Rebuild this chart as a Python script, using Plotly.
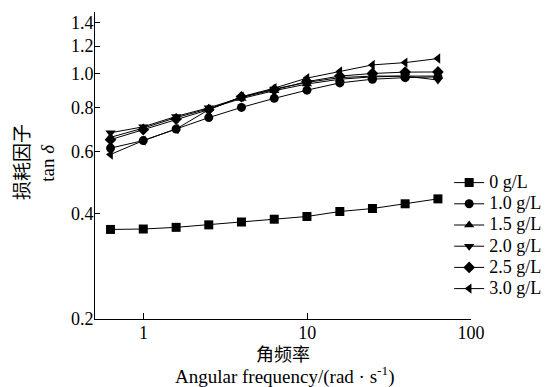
import plotly.graph_objects as go
import numpy as np

freq = [0.628, 0.995, 1.58, 2.5, 3.96, 6.28, 9.95, 15.8, 25.0, 39.6, 62.8]
series_names = ["0 g/L", "1.0 g/L", "1.5 g/L", "2.0 g/L", "2.5 g/L", "3.0 g/L"]
tan_0 = [0.360, 0.361, 0.365, 0.371, 0.378, 0.385, 0.392, 0.405, 0.413, 0.426, 0.440]
tan_10 = [0.614, 0.645, 0.696, 0.750, 0.802, 0.851, 0.898, 0.942, 0.965, 0.975, 0.980]
tan_15 = [0.659, 0.700, 0.750, 0.795, 0.850, 0.895, 0.935, 0.965, 0.980, 0.985, 0.985]
tan_20 = [0.679, 0.706, 0.756, 0.800, 0.855, 0.905, 0.945, 0.975, 0.985, 0.985, 0.960]
tan_25 = [0.649, 0.693, 0.743, 0.790, 0.860, 0.900, 0.950, 0.985, 1.002, 1.011, 1.012]
tan_30 = [0.589, 0.645, 0.696, 0.790, 0.860, 0.910, 0.972, 1.015, 1.060, 1.076, 1.105]
y_tickvals = [0.2, 0.4, 0.6, 0.8, 1.0, 1.2, 1.4, 1.5]
y_ticktext = ["0.2", "0.4", "0.6", "0.8", "1.0", "1.2", "1.4", ""]
x_tickvals = [1, 10, 100]
x_ticktext = ["1", "10", "100"]

all_series = [tan_0, tan_10, tan_15, tan_20, tan_25, tan_30]
symbols = ["square", "circle", "triangle-up", "triangle-down", "diamond", "triangle-left"]

SERIF = "Liberation Serif"
CJK = "Noto Sans CJK SC"

# the page body has an 8px default margin, so the figure is sized to fit the window
W, H = 542, 379
ML, MR, MT, MB = 87, 76, 4, 68
PW, PH = W - ML - MR, H - MT - MB

fig = go.Figure()
for name, vals, sym in zip(series_names, all_series, symbols):
    fig.add_trace(go.Scatter(
        x=freq, y=vals, name='<span style="font-size:18px">' + name + '</span>',
        mode="lines+markers",
        line=dict(color="black", width=1),
        marker=dict(symbol=sym, size=9, color="black"),
    ))

fig.update_layout(
    width=W, height=H,
    margin=dict(l=ML, r=MR, t=MT, b=MB),
    paper_bgcolor="white", plot_bgcolor="white",
    font=dict(family=SERIF, size=18, color="black"),
    showlegend=True,
    legend=dict(x=(444 - ML) / PW, y=(H - MB - 159) / PH,
                xanchor="left", yanchor="top",
                bgcolor="rgba(0,0,0,0)", font=dict(family=SERIF, size=14),
                tracegroupgap=0, itemwidth=30),
    xaxis=dict(type="log", range=[-0.297, 2.0], tickvals=x_tickvals, ticktext=x_ticktext,
               ticks="inside", ticklen=6, tickcolor="black", showline=True, linecolor="black",
               linewidth=1, showgrid=False, zeroline=False, automargin=False,
               ticklabelstandoff=-3, tickfont=dict(family=SERIF, size=18)),
    yaxis=dict(type="log", range=[np.log10(0.2), np.log10(1.5)], tickvals=y_tickvals,
               ticktext=y_ticktext, ticks="inside", ticklen=5, tickcolor="black",
               showline=True, linecolor="black", linewidth=1, showgrid=False,
               zeroline=False, automargin=False, ticklabelstandoff=-3,
               tickfont=dict(family=SERIF, size=18)),
)

fig.add_annotation(text="损耗因子", xref="paper", yref="paper", x=-0.198, y=0.51,
                   textangle=-90, showarrow=False, font=dict(family=CJK, size=19),
                   xanchor="center", yanchor="middle")
fig.add_annotation(text="tan <i>δ</i>", xref="paper", yref="paper", x=-0.127, y=0.51,
                   textangle=-90, showarrow=False, font=dict(family=SERIF, size=19),
                   xanchor="center", yanchor="middle")
fig.add_annotation(text="角频率", xref="paper", yref="paper", x=0.5, y=-0.063,
                   showarrow=False, font=dict(family=CJK, size=18),
                   xanchor="center", yanchor="top")
fig.add_annotation(text="Angular frequency/(rad · s<sup>-1</sup>)", xref="paper", yref="paper",
                   x=0.505, y=-0.137, showarrow=False, font=dict(family=SERIF, size=19),
                   xanchor="center", yanchor="top")

fig.write_html("out.html")
